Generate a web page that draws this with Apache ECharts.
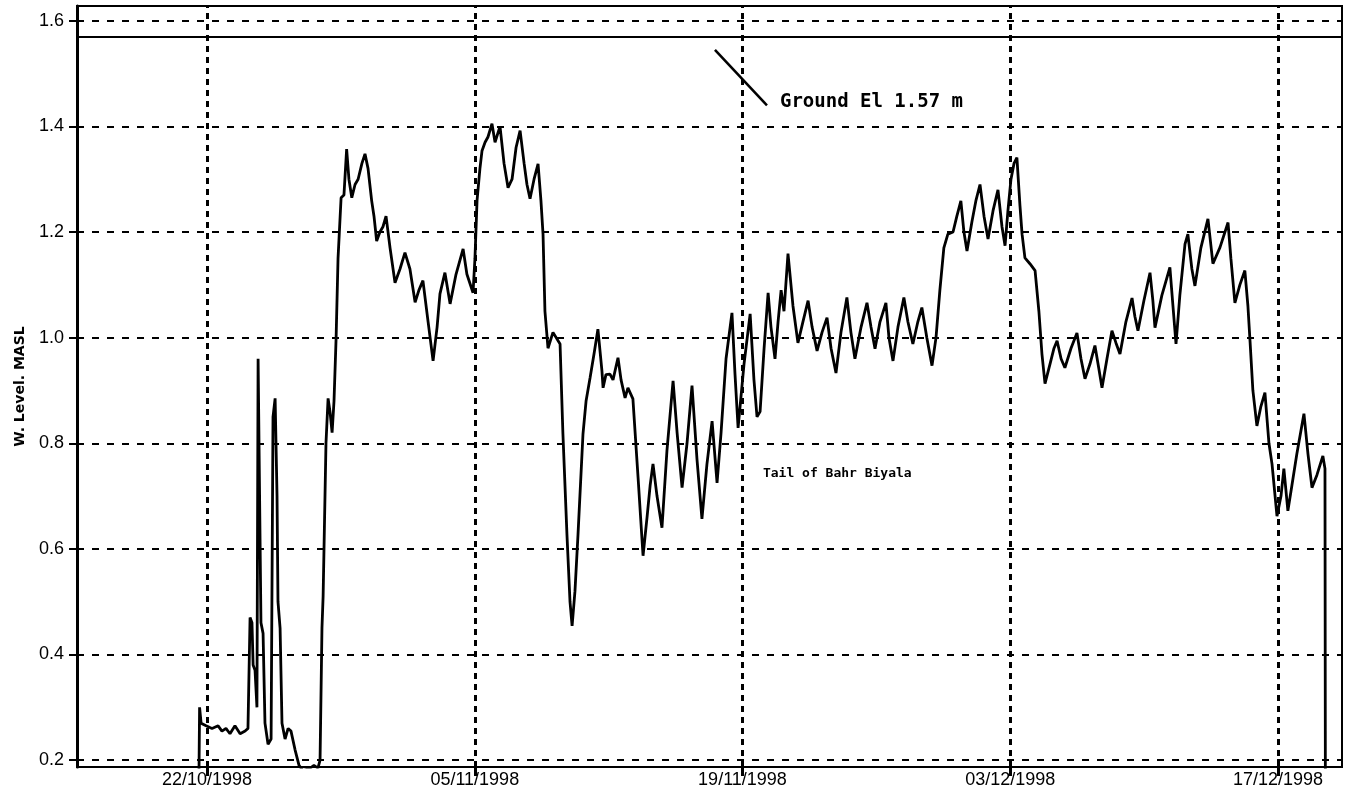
<!DOCTYPE html>
<html>
<head>
<meta charset="utf-8">
<script src="https://cdn.jsdelivr.net/npm/echarts@6/dist/echarts.min.js"></script>
<style>
html,body{margin:0;padding:0;background:#fff;}
#chart{width:1348px;height:807px;}
</style>
</head>
<body>
<div id="chart"></div>
<script>
// Time of each reading, in days after 22/10/1998 00:00
const dayOffset = [
-0.42,-0.39,-0.31,-0.05,0.26,0.58,0.78,0.99,1.20,1.46,1.73,1.99,2.14,2.25,2.35,2.41,2.51,2.61,2.67,2.77,
2.82,2.93,3.03,3.19,3.35,3.45,3.56,3.66,3.71,3.82,3.92,4.08,4.24,4.39,4.60,4.81,5.02,5.39,5.59,5.80,
5.91,6.01,6.07,6.22,6.33,6.43,6.54,6.64,6.75,6.85,7.01,7.16,7.30,7.42,7.57,7.74,7.90,8.10,8.26,8.42,
8.61,8.73,8.87,9.04,9.20,9.36,9.57,9.83,10.09,10.35,10.61,10.88,11.08,11.29,11.56,11.82,12.03,12.18,12.44,12.71,
13.02,13.39,13.59,13.91,14.01,14.12,14.27,14.38,14.54,14.69,14.90,15.06,15.32,15.53,15.74,15.95,16.16,16.37,16.58,16.73,
16.89,17.10,17.31,17.46,17.57,17.67,17.83,18.09,18.46,18.61,18.82,18.98,19.09,19.24,19.40,19.66,19.82,20.03,20.24,20.44,
20.65,20.71,20.86,21.07,21.23,21.49,21.65,21.86,22.01,22.27,22.54,22.80,23.01,23.17,23.32,23.53,23.79,24.05,24.37,24.58,
24.84,25.10,25.36,25.62,25.88,26.14,26.41,26.67,26.88,27.14,27.45,27.61,27.77,28.08,28.40,28.60,28.76,28.92,29.13,29.34,
29.49,29.70,29.86,30.02,30.17,30.38,30.64,30.90,31.16,31.43,31.64,31.90,32.16,32.42,32.63,32.89,33.15,33.46,33.67,33.88,
34.20,34.51,34.72,34.93,35.19,35.50,35.66,35.87,36.13,36.44,36.65,36.91,37.17,37.38,37.64,37.91,38.12,38.32,38.53,38.74,
39.01,39.21,39.42,39.58,39.74,40.00,40.21,40.42,40.63,40.84,41.10,41.36,41.57,41.73,41.88,42.04,42.20,42.35,42.51,42.62,
42.77,43.03,43.30,43.50,43.66,43.82,44.08,44.29,44.45,44.66,44.86,45.18,45.49,45.70,45.91,46.17,46.43,46.64,46.80,47.06,
47.32,47.53,47.74,48.05,48.37,48.52,48.68,48.99,49.31,49.46,49.57,49.93,50.35,50.51,50.67,50.87,51.14,51.29,51.50,51.66,
51.97,52.34,52.60,52.97,53.39,53.54,53.75,54.01,54.27,54.43,54.54,54.69,54.90,55.11,55.32,55.53,55.69,55.95,56.16,56.31,
56.52,56.73,56.99,57.36,57.57,57.78,58.04,58.35,58.46,58.48
];
// Water level (m above mean sea level)
const waterLevel = [
0.18,0.30,0.27,0.265,0.26,0.265,0.255,0.26,0.25,0.265,0.25,0.255,0.26,0.47,0.46,0.38,0.37,0.30,0.96,0.96,
0.46,0.44,0.27,0.23,0.24,0.85,0.885,0.70,0.50,0.45,0.27,0.24,0.26,0.255,0.22,0.19,0.18,0.185,0.19,0.185,
0.20,0.45,0.51,0.80,0.885,0.86,0.82,0.88,1.00,1.15,1.265,1.27,1.357,1.30,1.265,1.29,1.30,1.33,1.348,1.32,
1.259,1.23,1.183,1.20,1.21,1.23,1.17,1.104,1.13,1.161,1.13,1.067,1.09,1.108,1.03,0.956,1.02,1.083,1.123,1.064,
1.12,1.168,1.12,1.085,1.15,1.26,1.32,1.354,1.37,1.38,1.405,1.37,1.40,1.33,1.284,1.30,1.36,1.392,1.33,1.29,
1.263,1.30,1.329,1.26,1.196,1.05,0.98,1.01,0.988,0.818,0.628,0.50,0.454,0.52,0.628,0.818,0.88,0.924,0.97,1.016,
0.937,0.905,0.93,0.931,0.92,0.962,0.92,0.886,0.905,0.884,0.735,0.587,0.66,0.72,0.761,0.70,0.64,0.786,0.918,0.82,
0.716,0.80,0.909,0.77,0.657,0.76,0.842,0.725,0.82,0.96,1.047,0.93,0.829,0.95,1.045,0.92,0.85,0.86,0.98,1.085,
1.02,0.96,1.03,1.09,1.05,1.159,1.06,0.99,1.03,1.07,1.02,0.975,1.01,1.038,0.98,0.933,1.01,1.076,1.01,0.96,
1.02,1.066,1.02,0.979,1.03,1.066,1.00,0.956,1.02,1.076,1.03,0.988,1.03,1.057,1.00,0.947,1.00,1.089,1.17,1.196,
1.20,1.23,1.259,1.20,1.164,1.22,1.26,1.29,1.23,1.187,1.24,1.28,1.21,1.174,1.24,1.30,1.33,1.341,1.25,1.196,
1.151,1.14,1.127,1.05,0.969,0.913,0.95,0.98,0.994,0.96,0.943,0.98,1.009,0.96,0.922,0.95,0.985,0.94,0.905,0.96,
1.013,0.99,0.969,1.03,1.075,1.04,1.013,1.07,1.123,1.07,1.019,1.08,1.133,1.06,0.988,1.08,1.177,1.196,1.13,1.098,
1.17,1.225,1.14,1.171,1.218,1.15,1.066,1.10,1.127,1.06,0.994,0.90,0.833,0.87,0.896,0.80,0.761,0.662,0.70,0.752,
0.672,0.72,0.78,0.856,0.78,0.716,0.74,0.776,0.752,0.18
];
const xTickDates = ['1998-10-22','1998-11-05','1998-11-19','1998-12-03','1998-12-17'];
const yTickValues = [0.2,0.4,0.6,0.8,1.0,1.2,1.4,1.6];
const groundLevel = 1.57;
const groundLabel = 'Ground El 1.57 m';
const stationLabel = 'Tail of Bahr Biyala';
const yAxisTitle = 'W. Level. MASL';

const DAY = 86400000;
const BASE = Date.UTC(1998, 9, 22);
const parseDate = s => { const p = s.split('-').map(Number); return Date.UTC(p[0], p[1]-1, p[2]); };
const series = dayOffset.map((d, i) => [BASE + d * DAY, waterLevel[i]]);
const xTicks = xTickDates.map(parseDate);
const xMin = Date.UTC(1998, 9, 15, 4, 48);
const xMax = Date.UTC(1998, 11, 20, 8, 24);
const pad = n => (n < 10 ? '0' : '') + n;
const fmtDate = v => { const d = new Date(v); return pad(d.getUTCDate()) + '/' + pad(d.getUTCMonth()+1) + '/' + d.getUTCFullYear(); };
const at = (days, lvl) => [BASE + days * DAY, lvl];

const chart = echarts.init(document.getElementById('chart'), null, {renderer: 'canvas'});
chart.setOption({
  animation: false,
  backgroundColor: '#ffffff',
  grid: {left: 77, right: 6, top: 6, bottom: 40, show: true, borderColor: '#000', borderWidth: 2, backgroundColor: 'transparent'},
  xAxis: {
    type: 'value', min: xMin, max: xMax,
    axisLine: {show: true, onZero: false, lineStyle: {color: '#000', width: 2}},
    axisTick: {show: true, length: 9, lineStyle: {color: '#000', width: 3}, customValues: xTicks},
    axisLabel: {customValues: xTicks, formatter: fmtDate, color: '#000', fontSize: 18, fontFamily: 'Liberation Sans', margin: 4},
    splitLine: {show: false}
  },
  yAxis: {
    type: 'value', min: 0.187, max: 1.628,
    name: yAxisTitle, nameLocation: 'middle', nameGap: 50,
    nameTextStyle: {color: '#000', fontSize: 14, fontWeight: 'bold', fontFamily: 'DejaVu Sans'},
    axisLine: {show: true, lineStyle: {color: '#000', width: 3}},
    axisTick: {show: true, length: 8, lineStyle: {color: '#000', width: 2}, customValues: yTickValues},
    axisLabel: {customValues: yTickValues, formatter: v => v.toFixed(1), color: '#000', fontSize: 18, fontFamily: 'Liberation Sans', margin: 13},
    splitLine: {show: false}
  },
  series: [
    {
      type: 'line', data: [], z: 1, silent: true,
      markLine: {
        silent: true, symbol: ['none','none'], animation: false,
        label: {show: false},
        data: [
          ...yTickValues.map(v => ({yAxis: v, lineStyle: {color: '#000', width: 2, type: [7, 8]}})),
          ...xTicks.map(v => ({xAxis: v, lineStyle: {color: '#000', width: 3, type: [6, 5]}})),
          {yAxis: groundLevel, lineStyle: {color: '#000', width: 2, type: 'solid'}},
          [{coord: at(26.56, 1.545), lineStyle: {color: '#000', width: 2.5, type: 'solid'}}, {coord: at(29.28, 1.44)}]
        ]
      },
      markPoint: {
        silent: true, symbol: 'circle', symbolSize: 0, animation: false,
        data: [
          {coord: at(29.96, 1.446), label: {show: true, position: 'right', distance: 0, formatter: groundLabel, color: '#000', fontSize: 19, fontWeight: 'bold', fontFamily: 'DejaVu Sans Mono'}},
          {coord: at(29.07, 0.742), label: {show: true, position: 'right', distance: 0, formatter: stationLabel, color: '#000', fontSize: 13, fontWeight: 'bold', fontFamily: 'DejaVu Sans Mono'}}
        ]
      }
    },
    {
      type: 'line', data: series, z: 3, showSymbol: false, silent: true,
      lineStyle: {color: '#000', width: 2.8}, clip: true
    }
  ]
});
</script>
</body>
</html>
